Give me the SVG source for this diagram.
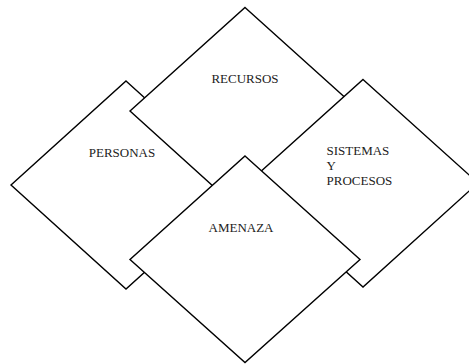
<svg xmlns="http://www.w3.org/2000/svg" width="469" height="364" viewBox="0 0 469 364">
<style>
.d{fill:#fff;stroke:#000;stroke-width:1.4;stroke-linejoin:miter}
.t{font-family:"Liberation Serif","Times New Roman",serif;font-size:13px;fill:#222}
</style>
<rect width="469" height="364" fill="#fff"/>
<g id="connectors"></g>
<g id="personas">
<polygon class="d" points="126,81 241,185 126,289 11,185"/>
<text class="t" x="122" y="157" text-anchor="middle">PERSONAS</text>
</g>
<g id="recursos">
<polygon class="d" points="245,7.5 360,111 245,215 130,111"/>
<text class="t" x="245" y="83" text-anchor="middle">RECURSOS</text>
</g>
<g id="sistemas">
<polygon class="d" points="363,79.5 478,183 363,287 248,183"/>
<text class="t" x="326.5" y="155">SISTEMAS</text>
<text class="t" x="326.5" y="169.5">Y</text>
<text class="t" x="326.5" y="185">PROCESOS</text>
</g>
<g id="amenaza">
<polygon class="d" points="245,156 360,259.5 245,362.5 130,259.5"/>
<text class="t" x="241" y="232" text-anchor="middle">AMENAZA</text>
</g>
</svg>
